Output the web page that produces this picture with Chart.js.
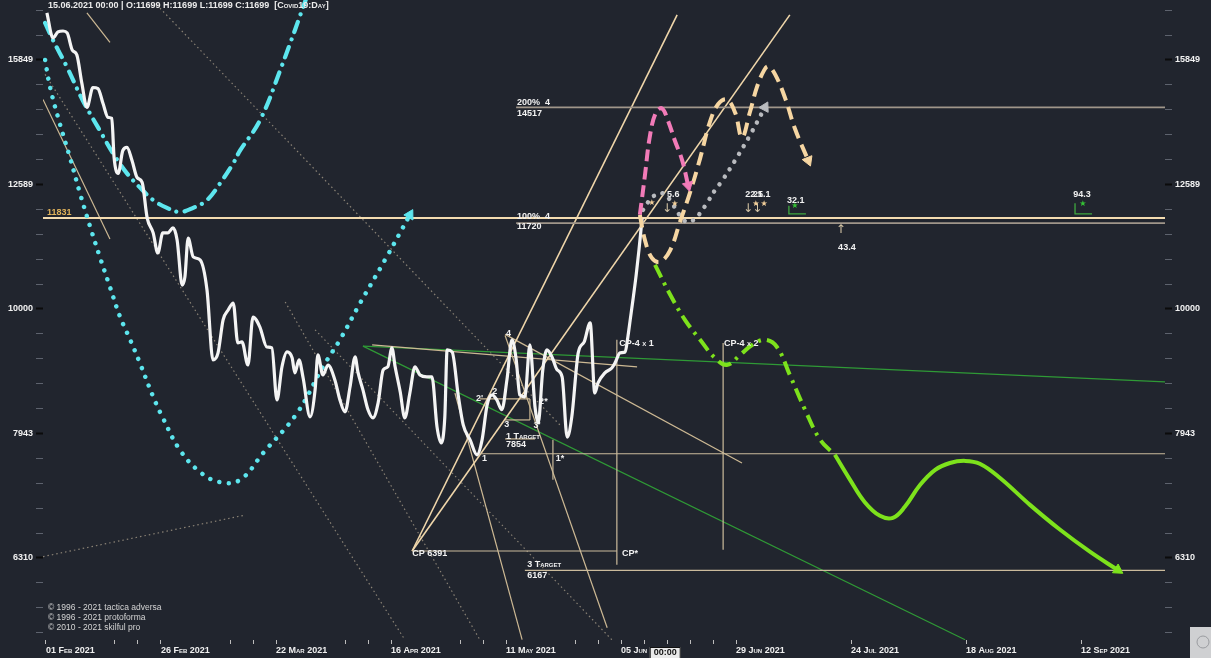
<!DOCTYPE html>
<html>
<head>
<meta charset="utf-8">
<title>Covid19 day</title>
<script src="https://cdn.jsdelivr.net/npm/chart.js@4.4.1/dist/chart.umd.min.js"></script>
<style>
  html, body { margin: 0; padding: 0; background: #21252e; overflow: hidden; }
  #chart { display: block; }
</style>
</head>
<body>
<canvas id="chart" width="1211" height="658"></canvas>
<script>
// ================================
// DATA  (x = bar index, 0 = 01 Feb 2021)
// ================================
const dateLabels = ["01 Feb 2021", "26 Feb 2021", "22 Mar 2021", "16 Apr 2021", "11 May 2021",
                    "05 Jun 2021", "29 Jun 2021", "24 Jul 2021", "18 Aug 2021", "12 Sep 2021"];
const labelDays = [0, 25, 50, 75, 100, 125, 150, 175, 200, 225];
const xTickDays = [0, 15, 20, 25, 40, 45, 50, 65, 70, 75, 90, 95, 100, 115, 120, 125, 130, 135, 140, 145, 150, 175, 200, 225];

const yMajorTicks = [6310, 7943, 10000, 12589, 15849];
const yMinorTicks = [5495, 5754, 6026, 6607, 6918, 7244, 7586, 8318, 8710, 9120, 9550,
                     10471, 10965, 11482, 12023, 13183, 13804, 14454, 15136, 16596, 17378];

const lastBar = { date: "15.06.2021 00:00", open: 11699, high: 11699, low: 11699, close: 11699 };
const lastPrice = 11831;

// daily cases (white line)
const caseDays = [0.2, 1.5, 2.6, 3.7, 4.6, 5.7, 6.7, 7.8, 8.9, 10.2,
  11.3, 12.4, 13.5, 14.3, 14.8, 15.7, 16.7, 17.6, 18.7, 19.8,
  20.9, 22.0, 23.3, 24.3, 25.4, 26.5, 27.6, 28.5, 29.6, 30.2,
  30.9, 32.0, 33.5, 35.0, 36.3, 37.4, 38.5, 39.6, 40.7, 41.7,
  42.6, 43.9, 45.0, 46.5, 48.0, 49.1, 50.2, 51.3, 52.4, 53.5,
  54.1, 55.0, 55.9, 57.4, 58.5, 59.1, 60.2, 61.3, 62.8, 63.9,
  65.0, 66.1, 67.2, 67.8, 68.9, 70.0, 71.1, 72.2, 73.3, 74.3,
  75.2, 75.9, 77.0, 78.0, 79.1, 80.2, 81.3, 82.8, 83.9, 85.0,
  85.9, 86.7, 87.2, 88.3, 89.6, 90.7, 92.2, 93.7, 94.8, 95.9,
  97.0, 98.0, 99.1, 100.2, 101.3, 102.2, 103.0, 104.1, 105.2, 106.3,
  107.0, 108.0, 108.9, 110.0, 111.1, 112.2, 113.3, 114.3, 115.7, 117.0,
  118.3, 119.3, 120.0, 121.5, 123.0, 123.7, 124.8, 125.9, 126.5, 127.0,
  127.6, 128.3, 128.9, 129.3, 129.6];
const caseValues = [17290, 16510, 16690, 16720, 16660, 16145, 15996, 15175, 14515, 15060,
  15030, 14620, 14250, 14225, 13235, 12850, 13405, 13480, 13160, 12750,
  12635, 11830, 11510, 11090, 11510, 11510, 11615, 11360, 10450, 10610,
  11400, 11010, 10950, 10355, 9100, 9220, 9800, 9980, 10110, 9390,
  9410, 9015, 9850, 9670, 9320, 9305, 8450, 8985, 9235, 9135,
  8885, 9100, 8800, 8190, 8610, 9185, 8850, 9015, 8770, 8450,
  8265, 8660, 9150, 8900, 8610, 8300, 8175, 8405, 8935, 8985,
  9305, 8985, 8580, 8175, 8560, 8985, 8850, 8820, 8820, 8040,
  7805, 8190, 9270, 9235, 8530, 8070, 7850, 7635, 7850, 8375,
  8530, 8450, 8300, 8770, 9445, 9115, 8530, 8500, 9355, 8345,
  8100, 8935, 9270, 9150, 8935, 8820, 7890, 8190, 9220, 9410,
  9745, 8560, 8720, 8885, 8965, 9050, 9220, 9235, 9500, 9800,
  10170, 10650, 11150, 11530, 11830];

// projection curves [bar, value]
const cyanArc = [[-0.2, 16970], [1.5, 16446], [4.6, 15630], [8.0, 14705], [11.7, 13910], [14.6, 13330],
  [17.6, 12850], [20.4, 12520], [23.3, 12230], [26.3, 12055], [29.1, 11965], [32.0, 12055],
  [35.0, 12230], [37.8, 12610], [40.7, 13090], [42.2, 13405], [46.5, 14170], [50.9, 15545], [57.4, 18110]];
const cyanBowl = [[-0.2, 15849], [0.9, 15060], [3.0, 14090], [5.2, 13235], [7.4, 12380], [9.6, 11640],
  [11.7, 11010], [13.9, 10415], [16.1, 9855], [18.3, 9445], [20.4, 9050], [23.3, 8500], [25.4, 8175],
  [29.1, 7705], [33.5, 7395], [37.8, 7260], [42.2, 7290], [47.2, 7660], [54.6, 8250], [60.2, 8985],
  [63.9, 9445], [68.3, 10110], [73.7, 10950], [79.1, 11900]];
const pinkPath = [[129.1, 11900], [130.2, 12800], [131.3, 13780], [132.6, 14380], [133.9, 14490],
  [135.2, 14170], [136.7, 13655], [138.3, 13160], [139.6, 12565]];
const peachPath = [[129.1, 11900], [130.2, 11360], [131.7, 10990], [133.5, 10910], [135.7, 11150],
  [137.8, 11740], [140.0, 12400], [142.2, 13210], [144.3, 14120], [146.1, 14600], [148.0, 14730],
  [149.8, 14380], [151.3, 13730], [153.0, 14380], [154.6, 15090], [156.1, 15545], [157.0, 15660],
  [158.5, 15430], [160.7, 14760], [162.8, 13960], [165.7, 13160]];
const greyPath = [[129.8, 12010], [130.9, 12185], [132.4, 12345], [133.9, 12390], [135.7, 12230],
  [137.4, 11940], [139.3, 11745], [141.1, 11810], [142.2, 11940], [143.7, 12165], [145.4, 12450],
  [147.0, 12680], [149.8, 13160], [153.0, 13780], [156.3, 14520]];
const greenDashPath = [[132.4, 10850], [135.7, 10265], [138.9, 9800], [142.2, 9445], [145.4, 9135],
  [148.0, 9015], [150.9, 9185], [153.5, 9355], [156.3, 9445], [158.9, 9320], [161.7, 8850],
  [165.0, 8300], [168.3, 7850], [171.5, 7635]];
const greenPath = [[171.5, 7635], [174.8, 7290], [178.0, 6995], [181.3, 6820], [184.1, 6795],
  [186.7, 6935], [190.0, 7220], [193.3, 7425], [196.5, 7520], [199.8, 7550], [203.0, 7510],
  [207.4, 7315], [213.9, 6960], [220.4, 6650], [227.0, 6380], [233.0, 6170]];

// straight drawing lines [[bar, value], [bar, value]]
const fanLines = [
  [[79.6, 6391], [137.2, 17225]],
  [[79.6, 6391], [161.7, 17225]]
];
const tanLines = [
  [[99.8, 9540], [151.3, 7520]],
  [[70.9, 9355], [128.5, 8985]],
  [[99.8, 9520], [122.0, 5545]],
  [[88.9, 8560], [103.5, 5424]],
  [[8.9, 17290], [13.9, 16370]],
  [[-0.65, 14730], [13.9, 11382]],
  [[94.3, 8467], [105.2, 8467]],
  [[99.8, 8144], [105.2, 8144]],
  [[105.2, 8467], [105.2, 8144]],
  [[99.8, 7863], [106.3, 7863]]
];
const dottedLines = [
  [[24.1, 17546], [111.7, 8070]],
  [[-0.2, 15430], [78.0, 5424]],
  [[58.5, 9620], [123.0, 5424]],
  [[52.0, 10130], [94.3, 5424]],
  [[-0.65, 6325], [43.3, 6830]]
];
const greenLines = [
  [[68.9, 9335], [243.3, 8737]],
  [[68.9, 9335], [199.8, 5424]]
];
const levelLines = [
  [[102.2, 14517], [243.3, 14517]],
  [[102.2, 11720], [243.3, 11720]],
  [[94.3, 7650], [243.3, 7650]],
  [[104.1, 6167], [243.3, 6167]],
  [[79.6, 6391], [124.1, 6391]],
  [[124.1, 9445], [124.1, 6230]],
  [[147.2, 9390], [147.2, 6405]],
  [[110.2, 7850], [110.2, 7290]]
];
const lastPriceLine = [[-0.65, lastPrice], [243.3, lastPrice]];
const greenMarks = [
  [[161.5, 12100], [161.5, 11920], [165.2, 11920]],
  [[223.7, 12160], [223.7, 11920], [227.4, 11920]]
];

// text notes [bar, value, text]
const notes = [
  [102.4, 14660, "200%  4"], [102.4, 14355, "14517"],
  [102.4, 11855, "100%  4"], [102.4, 11640, "11720"],
  [100.0, 7905, "1 Target"], [100.0, 7775, "7854"],
  [104.6, 6230, "3 Target"], [104.6, 6105, "6167"],
  [79.6, 6360, "CP 6391"], [125.2, 6360, "CP*"],
  [124.6, 9373, "CP-4 x 1"], [147.4, 9373, "CP-4 x 2"],
  [100.0, 9560, "4"], [93.5, 8480, "2'"], [97.0, 8580, "2"], [99.6, 8070, "3"],
  [106.0, 8060, "3'"], [107.2, 8420, "2*"], [94.8, 7580, "1"], [110.8, 7580, "1*"],
  [135.0, 12345, "5.6"], [152.0, 12345, "22.1"], [153.7, 12345, "25.1"],
  [161.1, 12230, "32.1"], [172.2, 11200, "43.4"], [223.3, 12345, "94.3"]
];
const arrowsDown = [[135.0, 12031], [152.6, 12031], [154.6, 12031]];
const arrowsUp = [[172.8, 11570]];
const starsPeach = [[131.7, 12160], [136.7, 12143], [154.3, 12143], [156.1, 12143]];
const starsGreen = [[162.8, 12100], [225.4, 12143]];
const cursorBar = 134.5;

// ================================
// DATASETS
// ================================
const pts = arr => arr.map(p => ({ x: p[0], y: p[1] }));

function lineSet(arr, color, width, extra) {
  return Object.assign({
    data: pts(arr), borderColor: color, backgroundColor: color, borderWidth: width,
    pointRadius: 0, tension: 0, fill: false, order: 20
  }, extra || {});
}

function arrowEnd(arr, color, rot) {
  return {
    pointRadius: c => (c.dataIndex === arr.length - 1 ? 6 : 0),
    pointStyle: "triangle", pointRotation: rot,
    pointBackgroundColor: color, pointBorderColor: color, pointBorderWidth: 1
  };
}

const datasets = [];

dottedLines.forEach(l => datasets.push(lineSet(l, "#8a8275", 1.2, { borderDash: [1.5, 3], order: 30 })));
greenLines.forEach(l => datasets.push(lineSet(l, "#2f9a36", 1.2, { order: 26 })));
tanLines.forEach(l => datasets.push(lineSet(l, "#cdb994", 1.2, { order: 24 })));
fanLines.forEach(l => datasets.push(lineSet(l, "#efd6aa", 1.6, { order: 22 })));
levelLines.forEach((l, i) => datasets.push(lineSet(l, i < 2 ? "#a0968a" : "#cbbb9c", i < 2 ? 1.6 : 1.2, { order: 21 })));
datasets.push(lineSet(lastPriceLine, "#f4dcb0", 2, { order: 19 }));
greenMarks.forEach(l => datasets.push(lineSet(l, "#3fa83f", 1.3, { order: 18 })));

datasets.push(lineSet(caseDays.map((d, i) => [d, caseValues[i]]), "#f4f4f4", 3.2,
  { cubicInterpolationMode: "monotone", order: 6 }));

datasets.push(lineSet(cyanArc, "#5de6ee", 4.2,
  { tension: 0.4, borderDash: [11, 8, 0.01, 8], borderCapStyle: "round", order: 8 }));
datasets.push(lineSet(cyanBowl, "#5de6ee", 4.5,
  Object.assign({ tension: 0.4, borderDash: [0.01, 9.5], borderCapStyle: "round", order: 8 }, arrowEnd(cyanBowl, "#5de6ee", 29))));
datasets.push(lineSet(greyPath, "#b9bbbf", 4.5,
  Object.assign({ tension: 0.4, borderDash: [0.01, 9], borderCapStyle: "round", order: 4 }, arrowEnd(greyPath, "#b9bbbf", 28))));
datasets.push(lineSet(peachPath, "#f6d6a2", 4,
  Object.assign({ tension: 0.4, borderDash: [13, 7], order: 3 }, arrowEnd(peachPath, "#f6d6a2", 158))));
datasets.push(lineSet(pinkPath, "#f27bb8", 4,
  Object.assign({ tension: 0.4, borderDash: [12, 6], order: 2 }, arrowEnd(pinkPath, "#f27bb8", 166))));
datasets.push(lineSet(greenDashPath, "#7de21c", 4,
  { tension: 0.4, borderDash: [14, 6, 3, 6], order: 4 }));
datasets.push(lineSet(greenPath, "#7de21c", 4,
  Object.assign({ tension: 0.4, order: 4 }, arrowEnd(greenPath, "#7de21c", 123))));

// ================================
// TEXT / OVERLAY PLUGIN
// ================================
const FONT_FAMILY = '"Liberation Sans", Arial, sans-serif';

const overlayPlugin = {
  id: "overlay",
  afterDatasetsDraw(chart) {
    const { ctx, scales: { x, y } } = chart;
    ctx.save();
    ctx.textBaseline = "middle";
    ctx.textAlign = "left";
    ctx.font = "small-caps bold 9px " + FONT_FAMILY;
    ctx.fillStyle = "#f2f2f2";
    notes.forEach(([d, v, t]) => ctx.fillText(t, x.getPixelForValue(d), y.getPixelForValue(v)));

    ctx.fillStyle = "#e0b25a";
    ctx.fillText(String(lastPrice), x.getPixelForValue(0.2), y.getPixelForValue(11960));

    ctx.font = "12px DejaVu Sans";
    ctx.textAlign = "center";
    ctx.fillStyle = "#d6c6a6";
    arrowsDown.forEach(([d, v]) => ctx.fillText("\u2193", x.getPixelForValue(d), y.getPixelForValue(v)));
    arrowsUp.forEach(([d, v]) => ctx.fillText("\u2191", x.getPixelForValue(d), y.getPixelForValue(v)));

    ctx.font = "8px DejaVu Sans";
    ctx.fillStyle = "#f3cf9a";
    starsPeach.forEach(([d, v]) => ctx.fillText("\u2605", x.getPixelForValue(d), y.getPixelForValue(v)));
    ctx.fillStyle = "#35c235";
    starsGreen.forEach(([d, v]) => ctx.fillText("\u2605", x.getPixelForValue(d), y.getPixelForValue(v)));
    ctx.restore();
  },
  afterDraw(chart) {
    const { ctx, scales: { x } } = chart;
    ctx.save();
    ctx.textBaseline = "middle";
    ctx.textAlign = "left";
    ctx.fillStyle = "#ececec";
    ctx.font = "small-caps bold 9px " + FONT_FAMILY;
    const t = lastBar.date + " | O:" + lastBar.open + " H:" + lastBar.high + " L:" + lastBar.low +
              " C:" + lastBar.close + "  [Covid19:Day]";
    ctx.fillText(t, 48, 6);

    ctx.font = "8.5px " + FONT_FAMILY;
    ctx.fillStyle = "#d4d4d4";
    ["\u00a9 1996 - 2021 tactica adversa", "\u00a9 1996 - 2021 protoforma", "\u00a9 2010 - 2021 skilful pro"]
      .forEach((s, i) => ctx.fillText(s, 48, 608 + i * 10));

    // crosshair time label on the time axis
    const cx = x.getPixelForValue(cursorBar);
    ctx.fillStyle = "#e9e9e9";
    ctx.fillRect(cx - 15, 647, 31, 11);
    ctx.strokeStyle = "#111";
    ctx.lineWidth = 1;
    ctx.strokeRect(cx - 14.5, 647.5, 30, 11);
    ctx.fillStyle = "#111";
    ctx.textAlign = "center";
    ctx.font = "bold 9px " + FONT_FAMILY;
    ctx.fillText("00:00", cx + 0.5, 653);

    // corner badge, bottom right
    ctx.fillStyle = "#cfd0d2";
    ctx.fillRect(1190, 627, 21, 31);
    ctx.strokeStyle = "#9a9ca0";
    ctx.beginPath();
    ctx.arc(1203, 642, 6, 0, Math.PI * 2);
    ctx.stroke();
    ctx.restore();
  }
};

// ================================
// CHART
// ================================
const allYTicks = yMinorTicks.concat(yMajorTicks).sort((a, b) => a - b);

function yAxis(position) {
  return {
    type: "logarithmic",
    position: position,
    min: 5421,
    max: 17706,
    afterFit: s => {
      s.width = position === "left" ? 43 : 46;
      s.paddingTop = 0;
      s.paddingBottom = 0;
    },
    afterBuildTicks: s => { s.ticks = allYTicks.map(v => ({ value: v, major: yMajorTicks.includes(v) })); },
    ticks: {
      autoSkip: false,
      padding: 3,
      color: "#f2f2f2",
      font: { family: FONT_FAMILY, size: 9, weight: "bold" },
      callback: v => (yMajorTicks.includes(v) ? String(v) : "")
    },
    grid: {
      drawOnChartArea: false,
      tickLength: 7,
      tickColor: c => (c.tick && c.tick.major ? "#0b0b0b" : "#5d626d"),
      tickWidth: c => (c.tick && c.tick.major ? 2 : 1)
    },
    border: { display: false }
  };
}

new Chart(document.getElementById("chart"), {
  type: "line",
  data: { datasets: datasets },
  options: {
    responsive: false,
    animation: false,
    events: [],
    layout: { padding: 0, autoPadding: false },
    plugins: { legend: { display: false }, tooltip: { enabled: false } },
    scales: {
      x: {
        type: "linear",
        min: -0.652,
        max: 243.26,
        afterFit: s => {
          s.height = 18;
          s.paddingLeft = 0;
          s.paddingRight = 0;
        },
        afterBuildTicks: s => { s.ticks = xTickDays.map(v => ({ value: v })); },
        ticks: {
          autoSkip: false,
          maxRotation: 0,
          align: "start",
          padding: 1,
          color: "#f0f0f0",
          font: { family: FONT_FAMILY, size: 9, weight: "small-caps bold" },
          callback: v => {
            const i = labelDays.indexOf(v);
            return i >= 0 ? dateLabels[i] : "";
          }
        },
        grid: { drawOnChartArea: false, tickLength: 4, tickColor: "#bdbdbd" },
        border: { display: false }
      },
      y: yAxis("left"),
      y2: yAxis("right")
    }
  },
  plugins: [overlayPlugin]
});
</script>
</body>
</html>
